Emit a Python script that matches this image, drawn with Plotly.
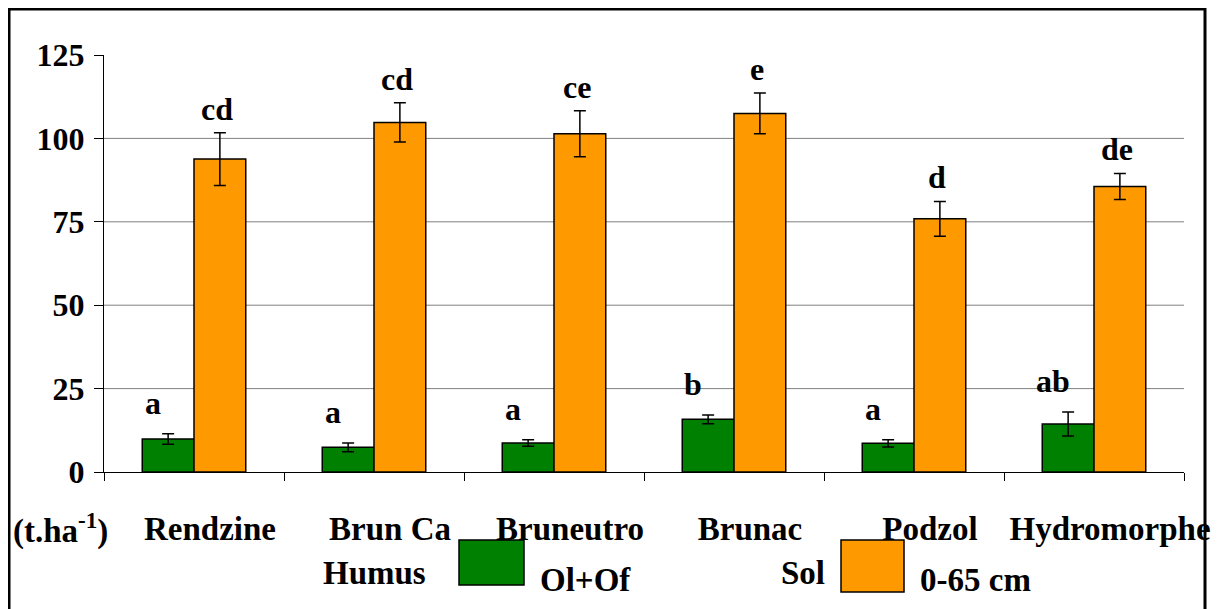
"""Humus and soil carbon stock by soil type, grouped bar chart."""

import plotly.graph_objects as go

soils = ["Rendzine", "Brun Ca", "Bruneutro", "Brunac", "Podzol", "Hydromorphe"]

humus = [9.9, 7.4, 8.7, 15.8, 8.6, 14.4]
humus_err = [1.6, 1.3, 1.0, 1.3, 1.1, 3.6]
humus_letters = ["a", "a", "a", "b", "a", "ab"]

sol = [93.8, 104.8, 101.4, 107.5, 75.9, 85.6]
sol_err = [7.9, 5.9, 6.9, 6.1, 5.2, 3.9]
sol_letters = ["cd", "cd", "ce", "e", "d", "de"]

y_ticks = [0, 25, 50, 75, 100, 125]
grid_vals = [25, 50, 75, 100]

GREEN = "#008000"
ORANGE = "#FF9900"
FONT = "Times New Roman"

# the page body adds an 8px offset, so the figure is shrunk by that much
OFF = 8
W, H = 1219 - OFF, 609 - OFF
PX_L, PX_R, PX_T, PX_B = 104, 1184, 55, 472  # plot area in screen pixels
L, T = PX_L - OFF, PX_T - OFF
R, B = W - (PX_R - OFF), H - (PX_B - OFF)


def px_x(x):
    return (x - PX_L) / (PX_R - PX_L)


def px_y(y):
    return (PX_B - y) / (PX_B - PX_T)


def bold(size):
    return dict(family=FONT, size=size, color="black", weight="bold")


fig = go.Figure()
fig.add_trace(go.Bar(
    x=soils, y=humus, name="Humus Ol+Of",
    marker=dict(color=GREEN, line=dict(color="black", width=1.5)),
    error_y=dict(type="data", array=humus_err, color="black", thickness=1.5, width=6),
))
fig.add_trace(go.Bar(
    x=soils, y=sol, name="Sol 0-65 cm",
    marker=dict(color=ORANGE, line=dict(color="black", width=1.5)),
    error_y=dict(type="data", array=sol_err, color="black", thickness=1.5, width=6),
))

for v in grid_vals:
    fig.add_hline(y=v, line=dict(color="#808080", width=1), layer="below")

# significance letters
for s, v, e, t in zip(soils, humus, humus_err, humus_letters):
    fig.add_annotation(x=s, y=v + e, text=t, showarrow=False, yanchor="bottom",
                       xshift=-41, yshift=11, font=bold(32))
for s, v, e, t in zip(soils, sol, sol_err, sol_letters):
    fig.add_annotation(x=s, y=v + e, text=t, showarrow=False, yanchor="bottom",
                       xshift=23, yshift=4, font=bold(32))

# unit label and the hand-placed legend
txt = dict(showarrow=False, xref="paper", yref="paper", yanchor="middle", font=bold(33))
fig.add_annotation(x=px_x(60), y=px_y(528), text="(t.ha<sup>-1</sup>)", xanchor="center", **txt)
fig.add_annotation(x=px_x(374), y=px_y(573), text="Humus", xanchor="center", **txt)
fig.add_annotation(x=px_x(538), y=px_y(580), text="Ol+Of", xanchor="left", **txt)
fig.add_annotation(x=px_x(803), y=px_y(573), text="Sol", xanchor="center", **txt)
fig.add_annotation(x=px_x(918), y=px_y(580), text="0-65 cm", xanchor="left", **txt)

fig.add_shape(type="rect", xref="paper", yref="paper",
              x0=px_x(459), x1=px_x(524), y0=px_y(540), y1=px_y(585),
              fillcolor=GREEN, line=dict(color="black", width=1.5))
fig.add_shape(type="rect", xref="paper", yref="paper",
              x0=px_x(841), x1=px_x(904), y0=px_y(540), y1=px_y(592),
              fillcolor=ORANGE, line=dict(color="black", width=1.5))

# outer frame
fig.add_shape(type="rect", xref="paper", yref="paper",
              x0=px_x(9), x1=px_x(1205), y0=px_y(625), y1=px_y(9),
              line=dict(color="black", width=3), fillcolor="rgba(0,0,0,0)")

fig.update_layout(
    width=W, height=H, autosize=False,
    margin=dict(l=L, r=R, t=T, b=B, pad=0),
    paper_bgcolor="white", plot_bgcolor="white",
    barmode="group", bargap=0.425, bargroupgap=0,
    showlegend=False,
    font=dict(family=FONT, color="black"),
)
fig.update_xaxes(
    showline=True, linecolor="black", linewidth=1, automargin=False,
    ticks="outside", tickson="boundaries", ticklen=8, tickcolor="black",
    showgrid=False, tickangle=0, ticklabelstandoff=27, ticklabelshift=16,
    tickfont=bold(33),
)
fig.update_yaxes(
    range=[0, 125], tickvals=y_ticks, automargin=False,
    showline=True, linecolor="black", linewidth=1,
    ticks="outside", ticklen=9, tickcolor="black",
    showgrid=False, zeroline=False, ticklabelstandoff=3,
    tickfont=bold(32),
)

fig.write_html("out.html")
